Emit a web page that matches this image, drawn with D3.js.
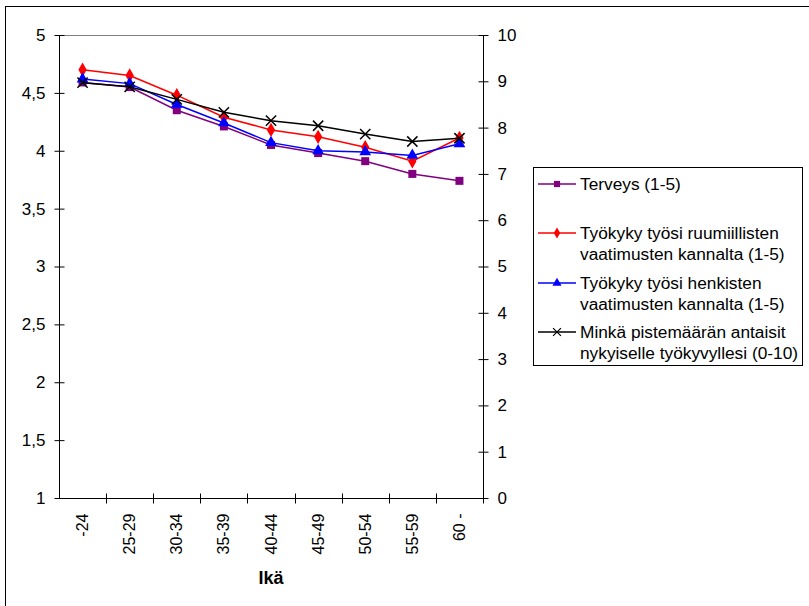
<!DOCTYPE html>
<html>
<head>
<meta charset="utf-8">
<script src="https://cdn.jsdelivr.net/npm/d3@7"></script>
<style>
  body { margin: 0; background: #fff; }
  svg text { font-family: "Liberation Sans", Arial, sans-serif; fill: #000; }
</style>
</head>
<body>
<div id="visual"></div>
<script>
// age groups
const categories = ["-24", "25-29", "30-34", "35-39", "40-44", "45-49", "50-54", "55-59", "60 -"];

// series values
const terveys = [4.59, 4.55, 4.35, 4.21, 4.05, 3.98, 3.91, 3.80, 3.74];
const ruumiillinen = [4.70, 4.65, 4.48, 4.29, 4.18, 4.12, 4.03, 3.91, 4.11];
const henkinen = [4.62, 4.58, 4.40, 4.24, 4.07, 4.00, 3.99, 3.96, 4.06];
const pistemaara = [8.97, 8.88, 8.61, 8.33, 8.15, 8.04, 7.86, 7.70, 7.77];

const leftTicks = [1, 1.5, 2, 2.5, 3, 3.5, 4, 4.5, 5];
const rightTicks = [0, 1, 2, 3, 4, 5, 6, 7, 8, 9, 10];

const legendLabels = [
    ["Terveys (1-5)"],
    ["Työkyky työsi ruumiillisten", "vaatimusten kannalta (1-5)"],
    ["Työkyky työsi henkisten", "vaatimusten kannalta (1-5)"],
    ["Minkä pistemäärän antaisit", "nykyiselle työkyvyllesi (0-10)"]
];

const series = [
    { values: terveys, color: "#800080", symbol: d3.symbolSquare, size: 64, axis: "left" },
    { values: ruumiillinen, color: "#ff0000", symbol: d3.symbolDiamond, size: 60, axis: "left" },
    { values: henkinen, color: "#0000ff", symbol: d3.symbolTriangle, size: 60, axis: "left" },
    { values: pistemaara, color: "#000000", symbol: d3.symbolX, size: 70, axis: "right" }
];

const W = 809, H = 606;
const plot = { left: 59, right: 483, top: 35, bottom: 498 };

const svg = d3.select("#visual")
    .append("svg")
    .attr("width", W)
    .attr("height", H);

// outer frame (runs off the right and bottom edges)
svg.append("rect")
    .attr("x", 5.5).attr("y", 6.5)
    .attr("width", 820).attr("height", 620)
    .attr("fill", "none").attr("stroke", "#000");

// scales
const x = d3.scaleBand()
    .domain(categories)
    .range([plot.left, plot.right]);

const yL = d3.scaleLinear()
    .domain([1, 5])
    .range([plot.bottom, plot.top]);

const yR = d3.scaleLinear()
    .domain([0, 10])
    .range([plot.bottom, plot.top]);

const fmt = d => String(d).replace(".", ",");

// top border of the plot area
svg.append("line")
    .attr("x1", plot.left).attr("x2", plot.right)
    .attr("y1", plot.top + 0.5).attr("y2", plot.top + 0.5)
    .attr("stroke", "#808080");

// left axis
const gL = svg.append("g")
    .attr("transform", "translate(" + (plot.left + 0.5) + ",0)")
    .call(d3.axisLeft(yL).tickValues(leftTicks).tickFormat(fmt).tickSize(5).tickPadding(9));
gL.selectAll(".tick line").attr("x1", 5);
gL.selectAll(".tick text").style("font-size", "17px");
gL.select(".domain").attr("d", "M0," + plot.top + "V" + plot.bottom);

// right axis
const gR = svg.append("g")
    .attr("transform", "translate(" + (plot.right + 0.5) + ",0)")
    .call(d3.axisRight(yR).tickValues(rightTicks).tickSize(5).tickPadding(9));
gR.selectAll(".tick line").attr("x1", -5);
gR.selectAll(".tick text").style("font-size", "17px");
gR.select(".domain").attr("d", "M0," + plot.top + "V" + plot.bottom);

// bottom axis: labels at band centres, ticks at band edges
const gB = svg.append("g")
    .attr("transform", "translate(0," + (plot.bottom + 0.5) + ")")
    .call(d3.axisBottom(x).tickSize(0).tickPadding(0));
gB.select(".domain").attr("d", "M" + plot.left + ",0H" + plot.right);
gB.selectAll(".tick text")
    .style("font-size", "16px")
    .attr("transform", "rotate(-90)")
    .attr("text-anchor", "end")
    .attr("x", -15)
    .attr("y", 0)
    .attr("dy", "0.35em");

const edges = categories.slice(1).map(c => x(c)).concat([plot.right]);
gB.selectAll(".edge")
    .data(edges)
    .enter()
    .append("line")
    .attr("x1", d => Math.round(d) + 0.5)
    .attr("x2", d => Math.round(d) + 0.5)
    .attr("y1", -5).attr("y2", 5)
    .attr("stroke", "#000");

svg.append("text")
    .attr("x", (plot.left + plot.right) / 2)
    .attr("y", 584)
    .attr("text-anchor", "middle")
    .style("font-size", "18px")
    .style("font-weight", "bold")
    .text("Ikä");

// lines and markers
const cx = c => x(c) + x.bandwidth() / 2;

series.forEach(s => {
    const y = s.axis === "left" ? yL : yR;
    const line = d3.line()
        .x((d, i) => cx(categories[i]))
        .y(d => y(d));
    svg.append("path")
        .datum(s.values)
        .attr("d", line)
        .attr("fill", "none")
        .attr("stroke", s.color)
        .attr("stroke-width", 1.5);

    svg.append("g")
        .selectAll("path")
        .data(s.values)
        .enter()
        .append("path")
        .attr("transform", (d, i) => "translate(" + cx(categories[i]) + "," + y(d) + ")")
        .attr("d", d3.symbol().type(s.symbol).size(s.size))
        .attr("fill", s.symbol === d3.symbolX ? "none" : s.color)
        .attr("stroke", s.color)
        .attr("stroke-width", s.symbol === d3.symbolX ? 1.5 : 0);
});

// legend
const legend = svg.append("g");
legend.append("rect")
    .attr("x", 533.5).attr("y", 167.5)
    .attr("width", 269).attr("height", 198)
    .attr("fill", "#fff").attr("stroke", "#000");

const legendY = [184, 233, 283, 332];
series.forEach((s, i) => {
    const g = legend.append("g").attr("transform", "translate(0," + legendY[i] + ")");
    g.append("line")
        .attr("x1", 538).attr("x2", 576)
        .attr("y1", 0).attr("y2", 0)
        .attr("stroke", s.color)
        .attr("stroke-width", 1.5);
    g.append("path")
        .attr("transform", "translate(557,0)")
        .attr("d", d3.symbol().type(s.symbol).size(s.size * 0.6))
        .attr("fill", s.symbol === d3.symbolX ? "none" : s.color)
        .attr("stroke", s.color)
        .attr("stroke-width", s.symbol === d3.symbolX ? 1.2 : 0);
    legendLabels[i].forEach((t, j) => {
        g.append("text")
            .attr("x", 580)
            .attr("y", j * 21)
            .attr("dy", "0.35em")
            .style("font-size", "17.3px")
            .text(t);
    });
});
</script>
</body>
</html>
